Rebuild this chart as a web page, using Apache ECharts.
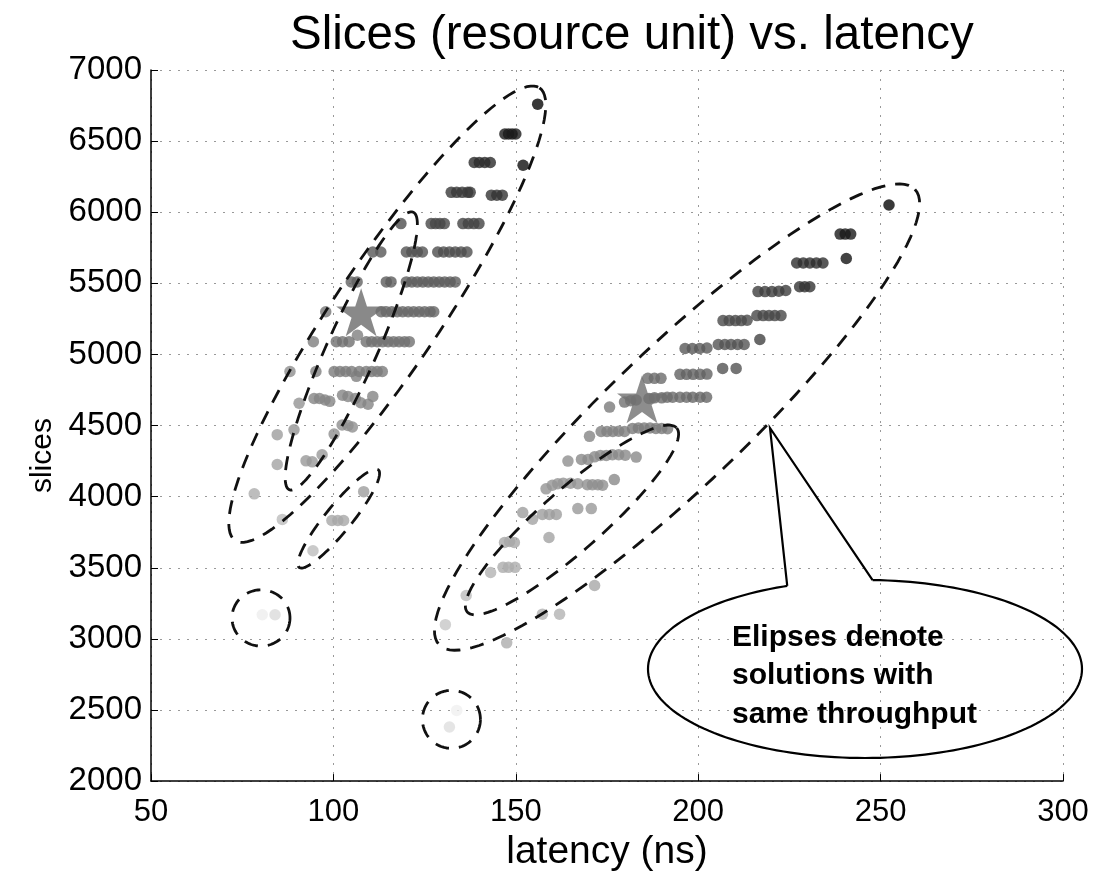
<!DOCTYPE html>
<html>
<head>
<meta charset="utf-8">
<script src="https://cdn.jsdelivr.net/npm/echarts@6/dist/echarts.min.js"></script>
<style>
html,body{margin:0;padding:0;background:#fff;}
#chart{width:1108px;height:877px;}
</style>
</head>
<body>
<div id="chart"></div>
<script>
// ---- data: [latency (ns), slices, shade level (0 = black .. 100 = white)] ----
const leftCluster = [
  [156,6760,3],
  [147,6550,10],[148,6550,10],[149,6550,10],[150,6550,10],
  [152,6330,6],
  [138.6,6350,17],[140,6350,17],[141.5,6350,17],[143,6350,17],
  [132.3,6140,22],[133.8,6140,22],[135.3,6140,22],[136.8,6140,22],[137.5,6140,22],
  [143.3,6120,20],[144.8,6120,20],[146.3,6120,20],
  [118.5,5920,30],[126.8,5920,28],[128,5920,28],[129.2,5920,28],[130.4,5920,28],[135.5,5920,26],[137,5920,26],[138.5,5920,26],[139.9,5920,26],
  [110.8,5720,34],[113,5720,34],[120,5720,32],[121.5,5720,32],[123,5720,32],[124.4,5720,32],[128.6,5720,30],[130.2,5720,30],[131.8,5720,30],[133.4,5720,30],[135,5720,30],[136.6,5720,30],
  [104.9,5510,38],[106.5,5510,38],[114.5,5510,36],[115.8,5510,36],[120,5510,36],[121.5,5510,36],[123,5510,36],[124.5,5510,36],[126,5510,36],[127.5,5510,36],[129,5510,36],[130.5,5510,36],[132,5510,36],[133.4,5510,36],
  [97.9,5300,46],[113.1,5300,40],[114.5,5300,40],[116,5300,40],[117.5,5300,40],[119,5300,40],[120.5,5300,40],[122,5300,40],[123.5,5300,40],[125,5300,40],[126.5,5300,40],[127.5,5300,40],
  [106.6,5135,50],
  [94.5,5090,50],[100.8,5090,44],[102.5,5090,44],[104.3,5090,44],[109,5090,44],[110.5,5090,44],[112,5090,44],[113.5,5090,44],[115,5090,44],[116.5,5090,44],[118,5090,44],[119.5,5090,44],[120.8,5090,44],
  [88.1,4880,56],[95.2,4880,50],[100.2,4880,48],[101.8,4880,48],[103.4,4880,48],[105,4880,48],[106.3,4846,50],[107.1,4880,48],[109,4880,48],[110.5,4880,48],[112,4880,48],[113.4,4880,48],
  [90.6,4657,58],[94.7,4690,52],[96.2,4690,52],[97.7,4680,52],[99,4670,52],[102.5,4713,52],[104,4705,52],[106,4690,52],[107.5,4660,52],[109.5,4650,52],[110.8,4705,52],
  [84.6,4436,62],[89.2,4470,58],[100.2,4440,56],[102.4,4504,56],[104,4500,56],[105.2,4490,56],
  [84.6,4226,64],[92.5,4252,60],[94.2,4245,60],[96.9,4295,60],
  [78.3,4020,68],[108.3,4035,62],
  [86,3840,74],
  [99.6,3832,66],[101.2,3832,66],[102.8,3832,66],
  [94.4,3620,74],
  [80.5,3170,93],[84,3170,86],
  [133.8,2497,94],[131.8,2380,87]
];

const rightCluster = [
  [252.3,6051,3],
  [238.9,5846,10],[240.3,5846,10],[241.8,5846,10],
  [240.6,5675,8],
  [227,5643,18],[228.8,5643,18],[230.6,5643,18],[232.4,5643,18],[234.2,5643,18],
  [216.4,5442,24],[218.3,5442,24],[220.2,5442,24],[222.1,5445,24],[224,5450,24],[227.8,5476,20],[229.2,5476,20],[230.6,5476,20],
  [206.8,5238,29],[208.5,5238,29],[210.2,5238,29],[211.8,5238,29],[213.4,5240,29],[216.1,5273,28],[217.8,5273,28],[219.4,5273,28],[221,5273,28],[222.7,5273,28],
  [196.4,5042,35],[198.4,5042,35],[200.4,5042,35],[202.4,5045,35],[205.5,5070,33],[207.3,5070,33],[209,5070,33],[210.8,5070,33],[212.6,5070,33],[216.9,5105,26],
  [186.2,4832,42],[188,4832,42],[189.8,4832,42],[195,4860,38],[196.8,4860,38],[198.6,4860,38],[200.5,4860,38],[202.4,4862,38],[206.7,4902,32],[210.4,4902,32],
  [175.7,4630,48],[179.8,4665,44],[181.5,4675,44],[183,4680,44],[186.5,4690,44],[188,4695,42],[190,4695,42],[191.5,4699,42],[193,4699,42],[195,4699,42],[196.8,4699,42],[198.5,4699,40],[200.5,4699,40],[202.3,4699,40],
  [170.2,4424,52],[173.4,4458,50],[175,4458,50],[176.6,4458,50],[178.2,4460,50],[179.8,4458,50],[182,4480,48],[183.6,4483,48],[185.2,4483,48],[186.8,4483,48],[188.4,4480,48],[190,4480,48],[191.6,4478,48],
  [164.3,4250,56],[168,4262,54],[169.8,4262,54],[171.6,4280,54],[173.2,4290,54],[174.8,4290,54],[176.5,4295,54],[178.2,4295,54],[180,4292,54],[183,4278,54],
  [158.3,4055,58],[160,4080,58],[161.5,4091,58],[163,4095,58],[165,4095,58],[167,4091,58],[169.6,4084,56],[171,4084,56],[172.5,4084,56],[173.8,4080,56],[177,4120,54],
  [151.9,3888,62],[154.6,3841,64],[157.3,3875,62],[159.2,3875,62],[161.1,3875,62],[167,3916,60],[170.7,3916,60],
  [159.1,3713,64],
  [146.9,3678,66],[148.3,3685,66],[149.6,3678,66],
  [146.5,3503,68],[148,3503,68],[149.8,3503,68],
  [143.1,3467,70],
  [171.6,3375,66],
  [136.4,3305,74],
  [157.3,3174,70],[162,3174,70],
  [130.7,3100,78],
  [147.5,2972,68]
];

// highlighted (chosen) designs, drawn as stars
const stars = [[107.6,5297,42],[184.6,4685,44]];

// dashed ellipses: [latency1, slices1, latency2, slices2, minor/major ratio] (ends of the major axis)
const ellipses = [
  [73.05,3692,156.5,6874,0.195],
  [87.9,4049,121.9,6000,0.165],
  [90.6,3503,112.3,4189,0.21],
  [72.2,3147,88.1,3147,0.97],
  [124.4,2434,140.3,2434,1.0],
  [129.0,2958,259.4,6161,0.21],
  [136.7,3189,194.1,4483,0.22]
];

const xTickStep = 50, yTickStep = 500;
const titleText = 'Slices (resource unit) vs. latency';
const calloutText = 'Elipses denote\nsolutions with\nsame throughput';

const FONT = '"Liberation Sans", Arial, Helvetica, sans-serif';
const chart = echarts.init(document.getElementById('chart'), null, {renderer:'canvas'});

function renderEllipse(params, api) {
  const p1 = api.coord([api.value(0), api.value(1)]);
  const p2 = api.coord([api.value(2), api.value(3)]);
  const ratio = api.value(4);
  const cx = (p1[0] + p2[0]) / 2, cy = (p1[1] + p2[1]) / 2;
  const dx = p2[0] - p1[0], dy = p2[1] - p1[1];
  const a = Math.sqrt(dx*dx + dy*dy) / 2, b = a * ratio;
  const ang = Math.atan2(dy, dx);
  const ca = Math.cos(ang), sa = Math.sin(ang);
  const pts = [];
  for (let i = 0; i < 120; i++) {
    const t = i / 120 * Math.PI * 2;
    const ex = a * Math.cos(t), ey = b * Math.sin(t);
    pts.push([cx + ex*ca - ey*sa, cy + ex*sa + ey*ca]);
  }
  return {
    type: 'polygon',
    shape: { points: pts },
    style: { fill: 'none', stroke: '#111', lineWidth: 2.8, lineDash: [14, 10] }
  };
}

// callout bubble geometry (pixel annotation)
const bub = {cx: 865, cy: 669, rx: 217, ry: 89};
const tR = -88, tL = -111;
function bubPt(deg) {
  const t = deg * Math.PI / 180;
  return [bub.cx + bub.rx * Math.cos(t), bub.cy + bub.ry * Math.sin(t)];
}
const bubbleArc = [];
for (let d = tR; d <= 360 + tL; d += 2) bubbleArc.push(bubPt(d));
bubbleArc.push(bubPt(360 + tL));
const tip = [770, 428];
const bubbleTail = [bubPt(tL), tip, bubPt(tR)];

const option = {
  backgroundColor: '#fff',
  animation: false,
  title: {
    text: titleText, left: 285, top: 7,
    textStyle: { fontFamily: FONT, fontSize: 47.5, fontWeight: 'normal', color: '#000' }
  },
  grid: { left: 151, right: 45, top: 70, bottom: 92 },
  xAxis: {
    type: 'value', min: 50, max: 300, interval: xTickStep,
    name: 'latency (ns)', nameLocation: 'middle', nameGap: 50,
    nameTextStyle: { fontFamily: FONT, fontSize: 39, color: '#000' },
    axisLine: { show: true, onZero: false, lineStyle: { color: '#000', width: 1.5 } },
    axisTick: { show: true, inside: true, length: 7, lineStyle: { color: '#000' } },
    axisLabel: { fontFamily: FONT, fontSize: 31, color: '#000', margin: 16, formatter: v => String(v) },
    splitLine: { show: true, lineStyle: { type: [2, 7], color: '#999', width: 1 } }
  },
  yAxis: {
    type: 'value', min: 2000, max: 7000, interval: yTickStep,
    name: 'slices', nameLocation: 'middle', nameGap: 86,
    nameTextStyle: { fontFamily: FONT, fontSize: 30, color: '#000', padding: [0, 60, 0, 0] },
    axisLine: { show: true, onZero: false, lineStyle: { color: '#000', width: 1.5 } },
    axisTick: { show: true, inside: true, length: 7, lineStyle: { color: '#000' } },
    axisLabel: { fontFamily: FONT, fontSize: 33, color: '#000', margin: 9, formatter: v => String(v) },
    splitLine: { show: true, lineStyle: { type: [2, 7], color: '#999', width: 1 } }
  },
  visualMap: {
    show: false, type: 'continuous', seriesIndex: [0, 1, 2], dimension: 2,
    min: 0, max: 100, inRange: { color: ['#000000', '#ffffff'] }
  },
  series: [
    { type: 'scatter', data: leftCluster, symbol: 'circle', symbolSize: 11.5, z: 2 },
    { type: 'scatter', data: rightCluster, symbol: 'circle', symbolSize: 11.5, z: 2 },
    { type: 'scatter', data: stars, z: 3,
      symbol: 'path://M50 0 L61.2 34.5 L97.6 34.5 L68.2 55.9 L79.4 90.5 L50 69.1 L20.6 90.5 L31.8 55.9 L2.4 34.5 L38.8 34.5 Z',
      symbolSize: [50, 48] },
    { type: 'custom', data: ellipses, renderItem: renderEllipse, z: 5,
      encode: { x: [0, 2], y: [1, 3] }, silent: true }
  ],
  graphic: [
    { type: 'polyline', z: 100, silent: true,
      shape: { points: bubbleArc },
      style: { fill: null, stroke: '#000', lineWidth: 2.2 } },
    { type: 'polyline', z: 100, silent: true,
      shape: { points: bubbleTail },
      style: { fill: null, stroke: '#000', lineWidth: 2.2 } },
    { type: 'text', z: 101, left: 732, top: 618, silent: true,
      style: { text: calloutText, font: 'bold 30px ' + FONT, lineHeight: 38.5, fill: '#000' } }
  ]
};
chart.setOption(option);
</script>
</body>
</html>
